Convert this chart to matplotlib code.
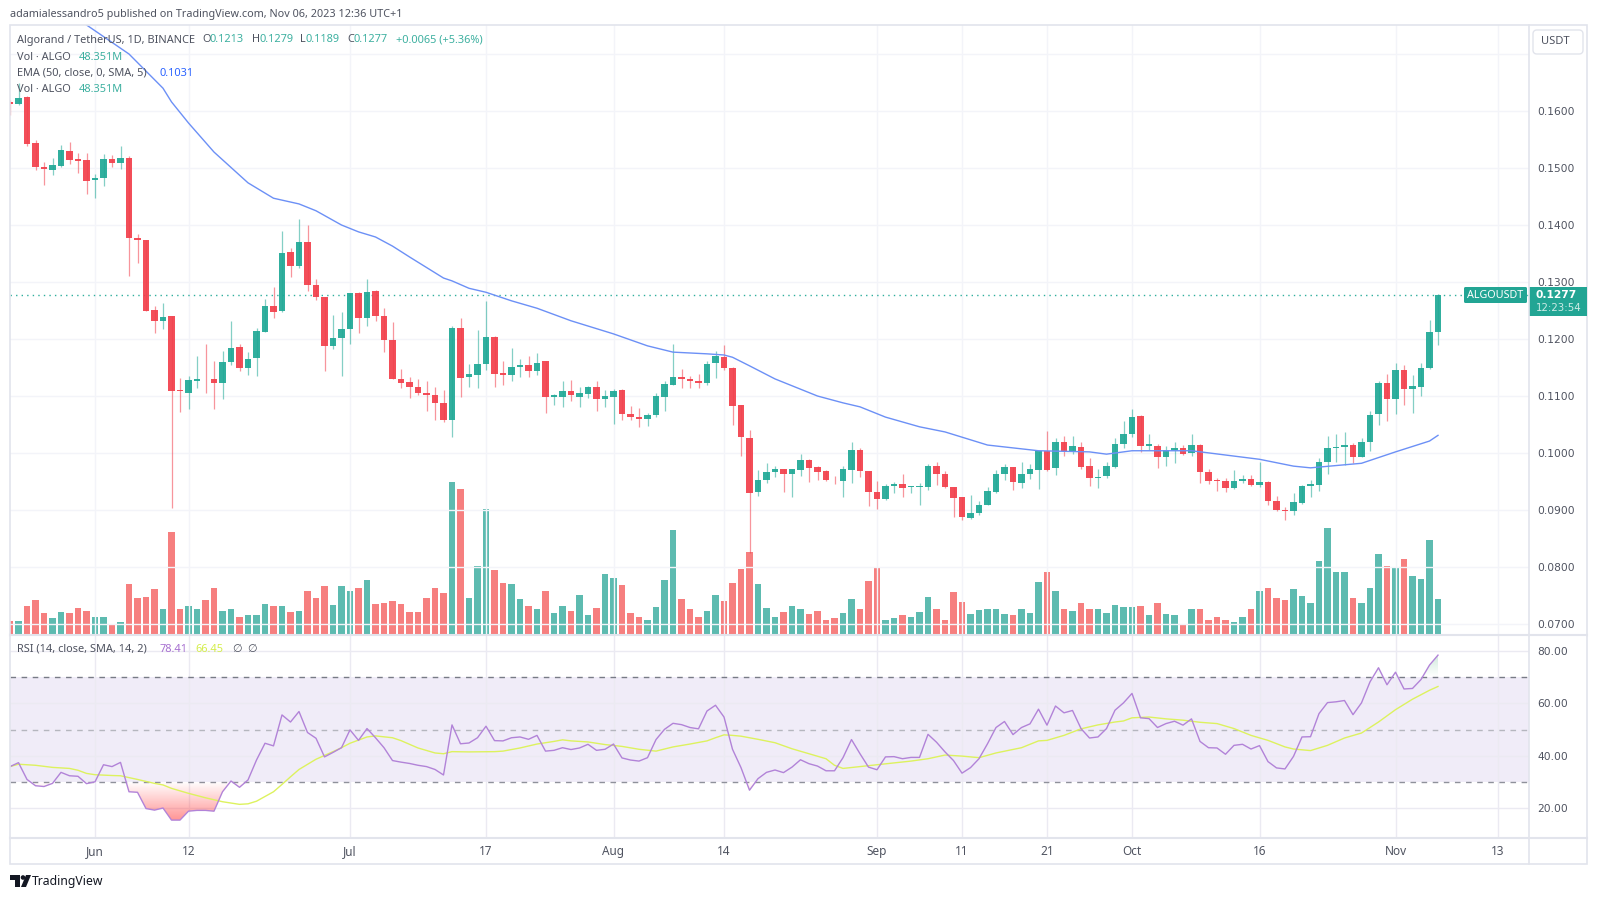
import numpy as np
import matplotlib
import matplotlib.pyplot as plt
from matplotlib.path import Path
from matplotlib.patches import Rectangle, FancyBboxPatch, Polygon, Circle

matplotlib.use('Agg')

# Daily candles, first one is 22 May 2023, last one is 6 Nov 2023
opens = [.1616, .1613, .1625, .1544, .1502, .1497, .1504, .1530, .1515, .1514,
         .1479, .1482, .1516, .1508, .1518, .1377, .1373, .1251, .1232, .1240,
         .1110, .1106, .1127, .1130, .1130, .1123, .1160, .1186, .1150, .1166,
         .1213, .1258, .1249, .1353, .1328, .1371, .1294, .1274, .1187, .1202,
         .1217, .1280, .1237, .1285, .1241, .1199, .1130, .1124, .1116, .1106,
         .1101, .1088, .1058, .1219, .1134, .1137, .1156, .1204, .1140, .1137,
         .1151, .1155, .1144, .1161, .1099, .1099, .1109, .1099, .1104, .1115,
         .1095, .1099, .1111, .1069, .1064, .1060, .1067, .1099, .1120, .1133,
         .1130, .1126, .1122, .1158, .1168, .1150, .1084, .1027, .0931, .0953,
         .0966, .0972, .0963, .0971, .0987, .0975, .0969, .0953, .0951, .0971,
         .1006, .0968, .0931, .0919, .0943, .0945, .0940, .0940, .0941, .0978,
         .0963, .0941, .0922, .0886, .0894, .0909, .0932, .0963, .0975, .0948,
         .0963, .0970, .1004, .0973, .1019, .1004, .1011, .0977, .0956, .0959,
         .0976, .1015, .1034, .1065, .1013, .1013, .0993, .1003, .1009, .1000,
         .1014, .0967, .0953, .0951, .0938, .0951, .0955, .0944, .0950, .0916,
         .0900, .0898, .0912, .0943, .0944, .0984, .1008, .1010, .1014, .0993,
         .1019, .1068, .1122, .1094, .1146, .1113, .1115, .1150, .1213]
closes = [.1612, .1623, .1543, .1502, .1499, .1505, .1532, .1514, .1513, .1477,
          .1482, .1516, .1508, .1518, .1378, .1373, .1250, .1232, .1238, .1109,
          .1108, .1128, .1130, .1129, .1123, .1160, .1185, .1150, .1165, .1214,
          .1258, .1247, .1351, .1328, .1371, .1295, .1273, .1187, .1202, .1218,
          .1280, .1236, .1283, .1241, .1198, .1129, .1122, .1116, .1106, .1101,
          .1087, .1058, .1219, .1132, .1139, .1157, .1204, .1139, .1137, .1151,
          .1155, .1144, .1158, .1099, .1101, .1108, .1101, .1106, .1115, .1095,
          .1100, .1109, .1068, .1063, .1060, .1066, .1100, .1121, .1133, .1129,
          .1126, .1122, .1157, .1171, .1150, .1083, .1028, .0930, .0953, .0967,
          .0972, .0963, .0972, .0987, .0974, .0967, .0953, .0952, .0972, .1006,
          .0968, .0931, .0920, .0943, .0945, .0939, .0942, .0942, .0978, .0963,
          .0941, .0921, .0887, .0894, .0909, .0933, .0964, .0975, .0950, .0963,
          .0972, .1003, .0970, .1019, .1004, .1012, .0975, .0956, .0958, .0977,
          .1016, .1034, .1064, .1013, .1015, .0993, .1005, .1009, .0999, .1014,
          .0966, .0951, .0951, .0938, .0951, .0955, .0944, .0950, .0915, .0900,
          .0898, .0914, .0943, .0945, .0984, .1009, .1010, .1014, .0993, .1019,
          .1066, .1122, .1094, .1146, .1113, .1117, .1150, .1212, .1277]
highs = [.1619, .1649, .1626, .1549, .1511, .1517, .1540, .1546, .1526, .1526,
         .1489, .1525, .1522, .1539, .1521, .1384, .1374, .1258, .1263, .1240,
         .1131, .1135, .1170, .1192, .1161, .1179, .1232, .1192, .1177, .1220,
         .1270, .1291, .1390, .1359, .1410, .1400, .1305, .1274, .1242, .1248,
         .1280, .1283, .1305, .1286, .1254, .1230, .1147, .1133, .1130, .1126,
         .1116, .1111, .1223, .1237, .1156, .1216, .1266, .1206, .1162, .1184,
         .1165, .1170, .1175, .1162, .1104, .1126, .1128, .1115, .1118, .1126,
         .1111, .1113, .1113, .1083, .1079, .1071, .1106, .1126, .1192, .1147,
         .1135, .1138, .1162, .1179, .1190, .1151, .1085, .1041, .0971, .0982,
         .0978, .0972, .0972, .0998, .0990, .0978, .0970, .0960, .0977, .1020,
         .1008, .0968, .0951, .0945, .0950, .0963, .0943, .0948, .0981, .0985,
         .0969, .0941, .0923, .0927, .0915, .0940, .0970, .0981, .0975, .0985,
         .0981, .1004, .1039, .1026, .1030, .1029, .1019, .0992, .0972, .0985,
         .1026, .1057, .1078, .1067, .1033, .1016, .1013, .1020, .1014, .1033,
         .1016, .0972, .0957, .0956, .0970, .0961, .0961, .0985, .0951, .0924,
         .0905, .0929, .0944, .0952, .0992, .1029, .1034, .1037, .1018, .1026,
         .1073, .1127, .1139, .1158, .1154, .1136, .1158, .1233, .1279]
lows = [.1593, .1610, .1539, .1497, .1471, .1488, .1502, .1507, .1491, .1455,
        .1448, .1469, .1501, .1499, .1311, .1334, .1250, .1210, .1218, .0904,
        .1072, .1077, .1114, .1106, .1077, .1095, .1154, .1144, .1137, .1135,
        .1212, .1236, .1248, .1308, .1325, .1285, .1268, .1144, .1183, .1135,
        .1192, .1210, .1222, .1232, .1178, .1129, .1114, .1097, .1102, .1073,
        .1058, .1055, .1028, .1099, .1115, .1114, .1146, .1115, .1119, .1127,
        .1134, .1134, .1136, .1070, .1085, .1080, .1092, .1081, .1097, .1074,
        .1081, .1051, .1058, .1058, .1046, .1047, .1064, .1073, .1119, .1114,
        .1114, .1114, .1119, .1132, .1146, .1049, .0995, .0825, .0924, .0947,
        .0958, .0932, .0923, .0960, .0950, .0952, .0951, .0946, .0923, .0948,
        .0958, .0907, .0902, .0918, .0929, .0923, .0929, .0909, .0935, .0944,
        .0938, .0887, .0882, .0884, .0891, .0908, .0930, .0952, .0935, .0938,
        .0954, .0937, .0968, .0961, .0995, .0999, .0972, .0943, .0939, .0956,
        .0973, .1009, .1028, .1001, .1005, .0974, .0978, .0982, .0997, .0994,
        .0947, .0946, .0934, .0931, .0937, .0947, .0943, .0940, .0908, .0899,
        .0883, .0892, .0911, .0922, .0933, .0963, .0984, .0979, .0982, .0993,
        .1004, .1050, .1056, .1069, .1085, .1070, .1100, .1147, .1189]

# Volume in millions of ALGO
volumes = [18, 18, 39, 47, 29, 22, 30, 29, 36, 32,
           24, 23, 14, 17, 69, 50, 51, 62, 35, 141,
           34, 38, 35, 47, 63, 32, 35, 24, 26, 26,
           41, 38, 38, 31, 32, 59, 50, 66, 40, 66,
           59, 64, 74, 41, 43, 46, 41, 31, 31, 50,
           64, 56, 209, 200, 50, 94, 173, 88, 71, 69,
           48, 39, 34, 60, 29, 39, 32, 54, 26, 36,
           83, 77, 68, 29, 24, 20, 37, 75, 144, 48,
           35, 23, 32, 54, 46, 71, 89, 113, 69, 36,
           23, 31, 39, 35, 27, 32, 19, 22, 29, 48,
           34, 73, 93, 19, 22, 26, 24, 31, 51, 34,
           19, 58, 44, 28, 33, 35, 34, 28, 26, 34,
           29, 72, 86, 59, 35, 32, 43, 35, 35, 29,
           40, 37, 37, 39, 26, 43, 28, 26, 12, 34,
           34, 20, 23, 19, 17, 24, 34, 60, 64, 50,
           47, 62, 53, 43, 101, 146, 86, 86, 50, 43,
           63, 111, 94, 93, 103, 80, 76, 130, 48.351]

# EMA 50, read at the bends of the line
ema_idx = [9, 14, 18, 19, 21, 24, 28, 31, 34, 36, 39, 41, 43, 45, 47, 51, 52, 54, 56, 59,
           62, 66, 71, 75, 78, 82, 84, 85, 87, 90, 95, 98, 100, 103, 107, 110, 115, 118,
           121, 127, 129, 132, 139, 147, 151, 153, 159, 163, 167, 168]
ema_vals = [.1751, .1700, .1640, .1616, .1579, .1528, .1474, .1447, .1437, .1425, .1400, .1388,
            .1379, .1363, .1344, .1307, .1302, .1289, .1282, .1267, .1254, .1232, .1209, .1188,
            .1177, .1174, .1172, .1168, .1153, .1130, .1100, .1088, .1081, .1063, .1046, .1037,
            .1014, .1009, .1004, .1002, .0998, .1004, .1004, .0989, .0977, .0974, .0982, .1002,
            .1021, .1031]

rsi = [35.9, 37.4, 31.0, 28.6, 28.3, 29.5, 33.7, 32.4, 32.2, 29.4,
       30.1, 36.6, 35.9, 37.5, 26.3, 26.1, 19.9, 19.3, 20.1, 15.5,
       15.5, 18.9, 19.2, 19.2, 18.9, 26.3, 30.4, 28.0, 30.8, 38.4,
       44.8, 43.8, 55.6, 52.9, 56.9, 48.9, 46.7, 39.6, 41.3, 43.1,
       49.9, 45.9, 50.4, 46.9, 43.1, 38.2, 37.6, 37.1, 36.4, 35.9,
       34.8, 32.7, 51.8, 44.6, 44.9, 46.9, 51.3, 45.8, 45.7, 46.9,
       47.2, 46.3, 47.8, 41.8, 42.1, 43.1, 42.4, 43.0, 44.4, 42.1,
       42.5, 44.5, 39.2, 38.4, 38.0, 39.3, 46.2, 50.1, 52.4, 51.9,
       50.8, 50.3, 57.1, 59.3, 54.8, 42.5, 35.5, 26.9, 31.3, 33.7,
       34.6, 33.6, 35.7, 38.5, 37.0, 36.1, 34.3, 34.3, 39.3, 46.2,
       40.8, 35.7, 34.7, 39.6, 39.7, 38.9, 39.4, 39.4, 48.2, 45.2,
       41.5, 38.2, 33.4, 35.5, 38.9, 44.6, 50.8, 53.1, 48.1, 50.8,
       52.2, 57.8, 51.7, 59.0, 56.4, 57.3, 50.4, 46.8, 47.2, 50.4,
       57.4, 60.2, 63.8, 54.5, 54.2, 50.8, 52.3, 53.2, 51.7, 54.1,
       45.5, 43.1, 43.0, 40.6, 44.0, 44.4, 42.6, 43.9, 37.8, 35.4,
       35.0, 39.8, 47.2, 47.3, 56.1, 60.3, 60.6, 61.1, 55.7, 60.2,
       68.2, 73.6, 67.1, 71.9, 65.5, 65.7, 69.1, 74.6, 78.41]

# RSI moving average, read at the bends of the line
rsi_ma_idx = [0, 1, 3, 5, 7, 8, 9, 10, 12, 13, 15, 17, 18, 19, 21, 23, 25, 27, 28, 29, 31, 32, 33, 34,
              36, 38, 39, 40, 42, 43, 45, 46, 48, 50, 51, 52, 54, 57, 58, 60, 62, 64, 65, 66, 68, 70,
              72, 74, 76, 78, 80, 82, 83, 84, 85, 86, 88, 90, 92, 94, 96, 97, 98, 100, 102, 104, 106,
              108, 110, 112, 114, 116, 119, 121, 122, 124, 126, 128, 130, 131, 132, 134, 136, 138,
              140, 142, 144, 146, 148, 150, 151, 153, 155, 157, 159, 161, 163, 165, 167, 168]
rsi_ma_vals = [35.9, 36.8, 36.4, 35.6, 35.2, 34.5, 33.3, 32.8, 32.5, 32.4, 31.0, 29.5, 28.9, 27.6,
               25.7, 24.0, 22.5, 21.5, 21.7, 22.7, 26.3, 29.1, 32.0, 34.8, 38.7, 41.6, 43.1, 44.8,
               47.2, 47.6, 46.9, 45.8, 43.0, 41.1, 40.8, 41.6, 41.5, 41.6, 41.8, 43.0, 44.5, 45.5,
               46.1, 45.7, 45.3, 44.3, 43.6, 42.5, 41.8, 43.4, 44.5, 45.7, 46.9, 48.0, 47.8, 47.5,
               46.3, 45.0, 42.7, 40.8, 38.9, 36.4, 35.2, 35.9, 36.6, 37.3, 38.0, 38.9, 40.3, 39.9,
               39.3, 41.1, 43.1, 45.7, 45.9, 47.8, 50.3, 51.8, 52.9, 53.3, 54.5, 54.8, 54.1, 53.6,
               52.8, 52.3, 50.4, 47.8, 45.9, 43.4, 42.6, 42.0, 44.0, 46.8, 48.7, 52.9, 57.6, 61.6,
               65.0, 66.45]

price_ticks = [.07, .08, .09, .10, .11, .12, .13, .14, .15, .16]
price_grid = price_ticks + [.17]
rsi_ticks = [20, 40, 60, 80]
date_idx = [10, 21, 40, 56, 71, 84, 102, 112, 122, 132, 147, 163, 175]
date_labels = ['Jun', '12', 'Jul', '17', 'Aug', '14', 'Sep', '11', '21', 'Oct', '16', 'Nov', '13']
last_price = .1277

UP = '#1FA896'
DOWN = '#F23F4B'
VOL_UP = '#5DBBB0'
VOL_DOWN = '#F67F7F'
GRID = '#F3F4F9'
FRAME = '#E2E4EC'
TEXT = '#4F5360'
TEAL_TXT = '#3DB0A0'
FONT = ['Noto Sans', 'DejaVu Sans']

plt.rcParams['font.family'] = FONT

W, H = 1600, 898
PANE_L, PANE_R = 10, 1529
MAIN_T, MAIN_B = 25, 634
RSI_T, RSI_B = 636, 837


def pane_rect(top, bottom):
    return [PANE_L / W, 1 - bottom / H, (PANE_R - PANE_L) / W, (bottom - top) / H]


idx = np.arange(len(closes))
opens, closes, highs, lows = map(np.array, (opens, closes, highs, lows))
rsi = np.array(rsi)
is_up = closes >= opens
xlim = (0, (PANE_R - PANE_L) / 8.5)

fig = plt.figure(figsize=(W / 100, H / 100), dpi=100, facecolor='white')

# Volume goes on its own axes behind the candles
ax_vol = fig.add_axes(pane_rect(MAIN_T, MAIN_B))
ax_vol.set_xlim(xlim)
ax_vol.set_ylim(0, 840)
ax_vol.axis('off')
ax_vol.bar(idx, volumes, width=0.8, color=[VOL_UP if u else VOL_DOWN for u in is_up], zorder=2)

ax = fig.add_axes(pane_rect(MAIN_T, MAIN_B))
ax.patch.set_visible(False)
ax.set_xlim(xlim)
ax.set_ylim(.06825, .17509)
for y in price_grid:
    ax.axhline(y, color=GRID, lw=1, zorder=0)
for x in date_idx:
    ax.axvline(x, color=GRID, lw=1, zorder=0)
ax.yaxis.tick_right()
ax.set_yticks(price_ticks)
ax.set_yticklabels(['%.4f' % t for t in price_ticks], fontsize=7.7, color=TEXT, family='DejaVu Sans')
ax.tick_params(axis='y', length=0, pad=6)
ax.set_xticks([])
for s in ax.spines.values():
    s.set_visible(False)

colors = [UP if u else DOWN for u in is_up]
ax.vlines(idx, lows, highs, colors=colors, lw=0.9, alpha=0.55, zorder=3)
ax.bar(idx, np.maximum(np.abs(closes - opens), .00012), bottom=np.minimum(opens, closes),
       width=0.72, color=colors, alpha=0.92, zorder=4)
ax.plot(ema_idx, ema_vals, color='#6C90F6', lw=1.0, zorder=5)
ax.plot([0, xlim[1]], [last_price, last_price], color='#2FAE9D', lw=1.0, ls=(0, (1, 3)), zorder=2)

# RSI pane
ax_rsi = fig.add_axes(pane_rect(RSI_T, RSI_B))
ax_rsi.set_xlim(xlim)
ax_rsi.set_ylim(9.05, 85.7)
ax_rsi.axhspan(30, 70, color='#F0ECF8', lw=0, zorder=0)
for y in rsi_ticks:
    ax_rsi.axhline(y, color='#EBEAF2', lw=1, zorder=1)
for x in date_idx:
    ax_rsi.axvline(x, color='#EBEAF2', lw=1, zorder=1)
ax_rsi.axhline(70, color='#787B86', lw=1, ls=(0, (4, 4)), zorder=2)
ax_rsi.axhline(50, color='#B5B6BE', lw=1, ls=(0, (4, 4)), zorder=2)
ax_rsi.axhline(30, color='#8F919B', lw=1, ls=(0, (4, 4)), zorder=2)

# Gradients in the oversold and overbought parts, clipped to the area under the RSI line
low_poly = ax_rsi.fill_between(idx, rsi, 30, where=rsi < 30, interpolate=True, facecolor='none', lw=0)
high_poly = ax_rsi.fill_between(idx, rsi, 70, where=rsi > 70, interpolate=True, facecolor='none', lw=0)
low_grad = np.zeros((64, 1, 4))
low_grad[..., :3] = (1.0, 0.32, 0.32)
low_grad[:, 0, 3] = np.linspace(0.62, 0.0, 64)
high_grad = np.zeros((64, 1, 4))
high_grad[..., :3] = (0.1, 0.6, 0.35)
high_grad[:, 0, 3] = np.linspace(0.0, 0.22, 64)
low_img = ax_rsi.imshow(low_grad, extent=(0, xlim[1], 15, 30), origin='lower', aspect='auto', zorder=3)
low_img.set_clip_path(Path.make_compound_path(*low_poly.get_paths()), ax_rsi.transData)
high_img = ax_rsi.imshow(high_grad, extent=(0, xlim[1], 70, 79), origin='lower', aspect='auto', zorder=3)
high_img.set_clip_path(Path.make_compound_path(*high_poly.get_paths()), ax_rsi.transData)
ax_rsi.set_xlim(xlim)
ax_rsi.set_ylim(9.05, 85.7)

ax_rsi.plot(rsi_ma_idx, rsi_ma_vals, color='#DDF25E', lw=1.0, zorder=4)
ax_rsi.plot(idx, rsi, color='#B283D8', lw=1.0, zorder=5)
ax_rsi.yaxis.tick_right()
ax_rsi.set_yticks(rsi_ticks)
ax_rsi.set_yticklabels(['%.2f' % t for t in rsi_ticks], fontsize=7.7, color=TEXT, family='DejaVu Sans')
ax_rsi.tick_params(axis='y', length=0, pad=6)
ax_rsi.set_xticks(date_idx)
ax_rsi.set_xticklabels(date_labels, fontsize=8.5, color=TEXT)
ax_rsi.tick_params(axis='x', length=0, pad=6)
for s in ax_rsi.spines.values():
    s.set_visible(False)

# Overlay in pixel coordinates for the frame, legends, price labels and logo
over = fig.add_axes([0, 0, 1, 1])
over.set_xlim(0, W)
over.set_ylim(H, 0)
over.axis('off')
over.patch.set_visible(False)


def label(x, y, s, color=TEXT, size=7.9, **kw):
    over.text(x, y, s, color=color, fontsize=size, va='center', ha=kw.pop('ha', 'left'), **kw)


over.add_patch(Rectangle((10, 25), 1577, 839, fill=False, ec=FRAME, lw=1.2))
over.plot([PANE_R, PANE_R], [25, 864], color=FRAME, lw=1.2)
over.plot([10, 1587], [635, 635], color=FRAME, lw=1.5)
over.plot([10, 1587], [838, 838], color=FRAME, lw=1.5)

label(10, 14, 'adamialessandro5 published on TradingView.com, Nov 06, 2023 12:36 UTC+1', size=7.8)
label(17, 40, 'Algorand / TetherUS, 1D, BINANCE')
for x, s in [(202, 'O'), (252, 'H'), (300, 'L'), (347, 'C')]:
    label(x, 40, s)
for x, s in [(209, '0.1213'), (259, '0.1279'), (306, '0.1189'), (354, '0.1277'), (396, '+0.0065 (+5.36%)')]:
    label(x, 40, s, color=TEAL_TXT)
label(17, 57, 'Vol · ALGO')
label(79, 57, '48.351M', color=TEAL_TXT)
label(17, 73, 'EMA (50, close, 0, SMA, 5)')
label(159, 73, '0.1031', color='#2962FF')
label(17, 89, 'Vol · ALGO')
label(79, 89, '48.351M', color=TEAL_TXT)
label(17, 649, 'RSI (14, close, SMA, 14, 2)')
label(160, 649, '78.41', color='#A66FD0')
label(195, 649, '66.45', color='#D4EE4A')
label(232, 649, '∅', family='DejaVu Sans')
label(247, 649, '∅', family='DejaVu Sans')

# Symbol and price tags on the right
over.add_patch(FancyBboxPatch((1464, 287), 63, 16, boxstyle='round,pad=0,rounding_size=1.5', fc='#22A594', ec='none'))
label(1495.5, 295, 'ALGOUSDT', color='white', size=7.8, ha='center', fontweight='bold')
over.add_patch(Rectangle((1529, 287), 58, 29, fc='#22A594', ec='none'))
label(1536, 295, '0.1277', color='white', size=7.7, family='DejaVu Sans', fontweight='bold')
label(1536, 308, '12:23:54', color='#CDEBE6', size=7.4, family='DejaVu Sans')
over.add_patch(FancyBboxPatch((1533, 30), 50, 24, boxstyle='round,pad=0,rounding_size=4', fc='white', ec=FRAME, lw=1))
label(1541, 42, 'USDT', size=8.0)

# TradingView logo
over.add_patch(Polygon([(10, 875), (20, 875), (20, 887), (15, 887), (15, 880), (10, 880)], fc='#131722', ec='none'))
over.add_patch(Circle((23, 877.5), 2.3, fc='#131722', ec='none'))
over.add_patch(Polygon([(26, 875), (31, 875), (26, 887), (21, 887)], fc='#131722', ec='none'))
label(32, 881, 'TradingView', color='#131722', size=8.8)

fig.savefig('out.png', dpi=100)
